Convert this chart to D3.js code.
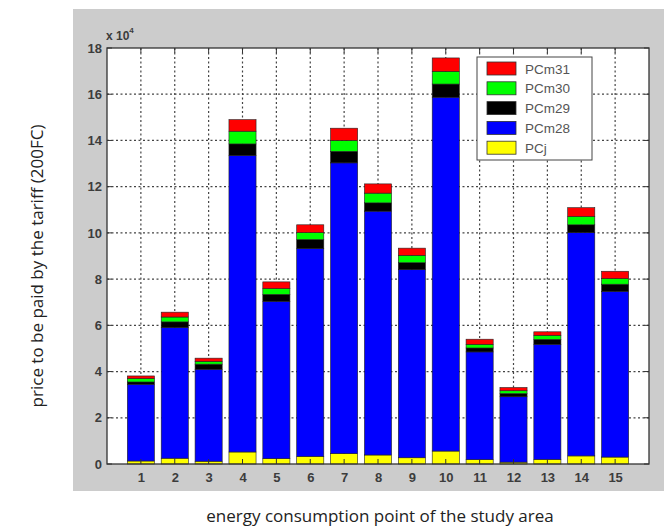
<!DOCTYPE html>
<html>
<head>
<meta charset="utf-8">
<script src="https://cdn.jsdelivr.net/npm/d3@7"></script>
<style>
  body { margin: 0; background: #fff; }
  .tick text { font-family: "Liberation Sans", Arial, sans-serif; font-size: 13px; font-weight: bold; fill: #3c3c3c; }
  .axlabel { font-family: "Open Sans", "Noto Sans", sans-serif; font-size: 17px; fill: #222; }
</style>
</head>
<body>
<svg id="chart" width="670" height="528"></svg>
<script>
// data
categories = d3.range(1, 16);
series_keys = ["PCj", "PCm28", "PCm29", "PCm30", "PCm31"];
series_colors = ["#ffff00", "#0000ff", "#000000", "#00ff00", "#ff0000"];
PCj   = [1300, 2500, 1200, 5200, 2300, 3300, 4500, 3900, 2700, 5600, 1900, 800, 2000, 3500, 3000];
PCm28 = [33200, 56500, 39800, 128300, 68100, 89900, 125800, 105500, 81400, 153100, 46600, 28300, 49800, 96600, 71700];
PCm29 = [1000, 2500, 2200, 5000, 3000, 3900, 5000, 3600, 3000, 5700, 1700, 1400, 2100, 3400, 3100];
PCm30 = [1500, 2100, 1200, 5500, 2500, 3000, 4700, 4200, 3200, 5500, 1600, 1200, 1800, 3600, 2400];
PCm31 = [1100, 2100, 1400, 5000, 2900, 3400, 5300, 4000, 3100, 5800, 2200, 1400, 1500, 3800, 3200];
y_ticks = d3.range(0, 180001, 20000);

let rows = categories.map(function(c, i){
    return {cat: c, PCj: PCj[i], PCm28: PCm28[i], PCm29: PCm29[i], PCm30: PCm30[i], PCm31: PCm31[i]};
});

let svg = d3.select("#chart");
let plot = {left: 107, right: 649, top: 48, bottom: 464};

// gray figure panel
svg.append("rect")
    .attr("x", 73).attr("y", 9)
    .attr("width", 591).attr("height", 482)
    .style("fill", "#cccccc");

svg.append("rect")
    .attr("x", plot.left).attr("y", plot.top)
    .attr("width", plot.right - plot.left).attr("height", plot.bottom - plot.top)
    .style("fill", "#fff");

let x = d3.scaleLinear().domain([0, 16]).range([plot.left, plot.right]);
let y = d3.scaleLinear().domain([0, 180000]).range([plot.bottom, plot.top]);

// grid
let grid = svg.append("g").attr("class", "grid");
grid.selectAll("line.gx")
    .data(categories)
    .enter().append("line")
    .attr("x1", function(d){ return x(d); }).attr("x2", function(d){ return x(d); })
    .attr("y1", plot.top).attr("y2", plot.bottom)
    .style("stroke", "#444").style("stroke-width", 1.2).style("stroke-dasharray", "2,2.5");
grid.selectAll("line.gy")
    .data(y_ticks.slice(1, -1))
    .enter().append("line")
    .attr("y1", function(d){ return y(d); }).attr("y2", function(d){ return y(d); })
    .attr("x1", plot.left).attr("x2", plot.right)
    .style("stroke", "#444").style("stroke-width", 1.2).style("stroke-dasharray", "2,2.5");

// stacked bars
let stacked = d3.stack().keys(series_keys)(rows);
let bw = x(0.8) - x(0);
svg.append("g").selectAll("g")
    .data(stacked)
    .enter().append("g")
    .style("fill", function(d, i){ return series_colors[i]; })
    .selectAll("rect")
    .data(function(d){ return d; })
    .enter().append("rect")
    .attr("x", function(d){ return x(d.data.cat) - bw / 2; })
    .attr("y", function(d){ return y(d[1]); })
    .attr("width", bw)
    .attr("height", function(d){ return y(d[0]) - y(d[1]); })
    .style("stroke", "#222").style("stroke-width", 0.6);

// axes
let x_axis = d3.axisBottom(x).tickValues(categories).tickSize(0).tickPadding(9);
svg.append("g")
    .attr("transform", "translate(0," + plot.bottom + ")")
    .call(x_axis)
    .call(function(g){ g.select(".domain").remove(); });

let y_axis = d3.axisLeft(y).tickValues(y_ticks).tickSize(0).tickPadding(5)
    .tickFormat(function(d){ return d / 10000; });
svg.append("g")
    .attr("transform", "translate(" + plot.left + ",0)")
    .call(y_axis)
    .call(function(g){ g.select(".domain").remove(); });

// inward ticks on all four sides
let tk = svg.append("g").style("stroke", "#333").style("stroke-width", 1);
categories.forEach(function(c){
    tk.append("line").attr("x1", x(c)).attr("x2", x(c)).attr("y1", plot.bottom).attr("y2", plot.bottom - 5);
    tk.append("line").attr("x1", x(c)).attr("x2", x(c)).attr("y1", plot.top).attr("y2", plot.top + 5);
});
y_ticks.forEach(function(v){
    tk.append("line").attr("y1", y(v)).attr("y2", y(v)).attr("x1", plot.left).attr("x2", plot.left + 5);
    tk.append("line").attr("y1", y(v)).attr("y2", y(v)).attr("x1", plot.right).attr("x2", plot.right - 5);
});

svg.append("rect")
    .attr("x", plot.left).attr("y", plot.top)
    .attr("width", plot.right - plot.left).attr("height", plot.bottom - plot.top)
    .style("fill", "none").style("stroke", "#333").style("stroke-width", 1.3);

// exponent label
let ex = svg.append("text")
    .attr("x", 106).attr("y", 40)
    .style("font-family", "Liberation Sans, Arial, sans-serif")
    .style("font-size", "12px").style("font-weight", "bold").style("fill", "#3c3c3c");
ex.append("tspan").text("x 10");
ex.append("tspan").attr("dy", -7).style("font-size", "8px").text("4");

// legend
let lg = svg.append("g").attr("transform", "translate(477,57)");
lg.append("rect")
    .attr("width", 115).attr("height", 103)
    .style("fill", "#fff").style("stroke", "#444");
let legend_items = series_keys.slice().reverse();
let legend_colors = series_colors.slice().reverse();
legend_items.forEach(function(k, i){
    let g = lg.append("g").attr("transform", "translate(10," + (5 + i * 19.8) + ")");
    g.append("rect").attr("width", 29).attr("height", 13)
        .style("fill", legend_colors[i]).style("stroke", "#333").style("stroke-width", 0.8);
    g.append("text").attr("x", 38).attr("y", 11.5)
        .style("font-family", "Liberation Sans, Arial, sans-serif")
        .style("font-size", "13.5px").style("fill", "#555")
        .text(k);
});

// axis titles
svg.append("text").attr("class", "axlabel")
    .attr("transform", "translate(43,266) rotate(-90)")
    .style("text-anchor", "middle")
    .text("price to be paid by the tariff (200FC)");
svg.append("text").attr("class", "axlabel")
    .attr("x", 380).attr("y", 522)
    .style("text-anchor", "middle")
    .text("energy consumption point of the study area");
</script>
</body>
</html>
